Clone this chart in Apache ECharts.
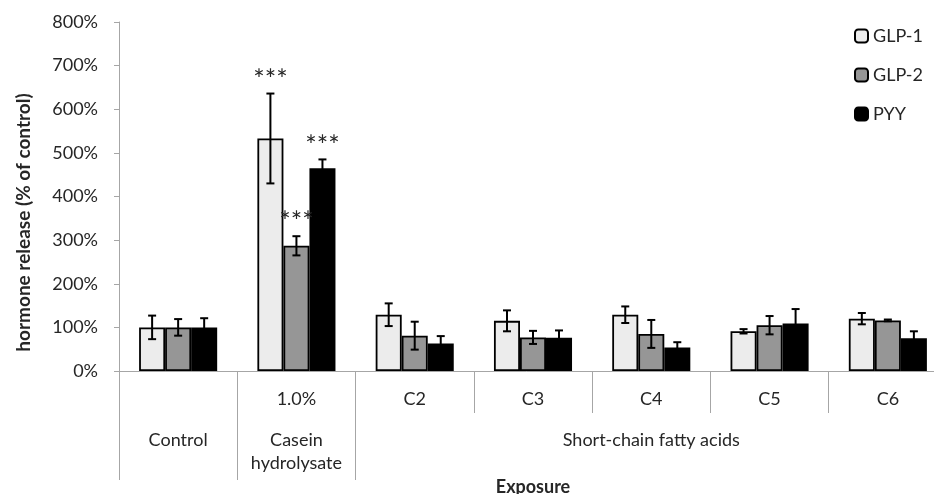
<!DOCTYPE html>
<html>
<head>
<meta charset="utf-8">
<script src="https://cdn.jsdelivr.net/npm/echarts@6/dist/echarts.min.js"></script>
<style>
  html, body { margin: 0; padding: 0; background: #fff; }
  #chart { width: 934px; height: 494px; }
</style>
</head>
<body>
<div id="chart"></div>
<script>
// Hormone release per exposure, % of control (mean and error)
const subLabels = ['', '1.0%', 'C2', 'C3', 'C4', 'C5', 'C6'];
const groupNames = ['Control', 'Casein\nhydrolysate', 'Short-chain fatty acids'];
const groupSpans = [1, 1, 5];

const glp1    = [100, 533, 129, 115, 129, 91, 120];
const glp1Err = [27, 103, 26, 24, 19, 5, 13];
const glp2    = [100, 287, 81, 77, 85, 105, 116];
const glp2Err = [19, 22, 32, 15, 32, 21, 2];
const pyy     = [100, 465, 63, 76, 54, 109, 75];
const pyyErr  = [21, 20, 17, 17, 12, 33, 16];

const glp1Sig = ['', '***', '', '', '', '', ''];
const glp2Sig = ['', '***', '', '', '', '', ''];
const pyySig  = ['', '***', '', '', '', '', ''];

const yTicks = [0, 100, 200, 300, 400, 500, 600, 700, 800];

// group boundaries and centres along the exposure axis
const groupBounds = [];
const groupCenters = [];
let acc = 0;
groupSpans.forEach(s => { groupBounds.push(acc); groupCenters.push(acc + s / 2); acc += s; });

const FONT = 'Lato';
const TEXT = '#262626';
const AXIS = '#a6a6a6';
const BAR_FRAC = 0.22;

function barSeries(name, values, color) {
  return {
    name: name,
    type: 'bar',
    data: values,
    barWidth: (BAR_FRAC * 100) + '%',
    barGap: '0%',
    itemStyle: { color: color, borderColor: '#000', borderWidth: 1.8 },
    z: 2
  };
}

function errorSeries(idx, means, errs, sig) {
  return {
    type: 'custom',
    z: 5,
    data: means.map((m, i) => [i, m, errs[i]]),
    renderItem: function (params, api) {
      const c = api.value(0), m = api.value(1), e = api.value(2);
      const band = api.size([1, 0])[0];
      const x = api.coord([c, 0])[0] + (idx - 1) * band * BAR_FRAC;
      const yTop = api.coord([c, m + e])[1];
      const yBot = api.coord([c, m - e])[1];
      const cap = 4;
      const ls = { stroke: '#000', lineWidth: 2 };
      const children = [
        { type: 'line', shape: { x1: x, y1: yTop, x2: x, y2: yBot }, style: ls },
        { type: 'line', shape: { x1: x - cap, y1: yTop, x2: x + cap, y2: yTop }, style: ls },
        { type: 'line', shape: { x1: x - cap, y1: yBot, x2: x + cap, y2: yBot }, style: ls }
      ];
      const s = sig[params.dataIndex];
      if (s) {
        children.push({
          type: 'text',
          style: {
            text: s, x: x, y: yTop,
            align: 'center', verticalAlign: 'bottom',
            fontFamily: FONT, fontSize: 27, fill: TEXT
          }
        });
      }
      return { type: 'group', children: children };
    }
  };
}

const chart = echarts.init(document.getElementById('chart'));
chart.setOption({
  animation: false,
  textStyle: { fontFamily: FONT, color: TEXT },
  grid: { left: 119, top: 22, bottom: 123, width: 828, outerBoundsMode: 'none', containLabel: false },
  legend: {
    data: ['GLP-1', 'GLP-2', 'PYY'],
    orient: 'vertical',
    left: 854, top: 27,
    padding: 0,
    itemWidth: 13, itemHeight: 13, itemGap: 21,
    textStyle: { fontFamily: FONT, fontSize: 18, color: TEXT }
  },
  xAxis: [
    {
      type: 'category',
      data: subLabels,
      axisLine: { lineStyle: { color: AXIS, width: 1 } },
      axisTick: { show: true, length: 42, lineStyle: { color: AXIS } },
      axisLabel: { fontFamily: FONT, fontSize: 18, color: TEXT, margin: 18, lineHeight: 20, interval: 0 }
    },
    {
      type: 'value',
      position: 'bottom',
      min: 0, max: acc,
      axisLine: { show: false },
      splitLine: { show: false },
      axisTick: { show: true, customValues: groupBounds, length: 109, lineStyle: { color: AXIS } },
      axisLabel: {
        customValues: groupCenters,
        formatter: v => groupNames[groupCenters.indexOf(v)] || '',
        fontFamily: FONT, fontSize: 18, color: TEXT, margin: 58, lineHeight: 23
      },
      name: 'Exposure',
      nameLocation: 'middle',
      nameGap: 107,
      nameMoveOverlap: false,
      nameTextStyle: { fontFamily: FONT, fontSize: 18, fontWeight: 'bold', color: TEXT }
    }
  ],
  yAxis: {
    type: 'value',
    min: yTicks[0], max: yTicks[yTicks.length - 1], interval: 100,
    axisLine: { show: true, lineStyle: { color: AXIS, width: 1 } },
    axisTick: { show: true, length: 5, lineStyle: { color: AXIS } },
    splitLine: { show: false },
    axisLabel: { formatter: '{value}%', fontFamily: FONT, fontSize: 18, color: TEXT, margin: 21 },
    name: 'hormone release (% of control)',
    nameLocation: 'middle',
    nameGap: 86,
    nameMoveOverlap: false,
    nameTextStyle: { fontFamily: FONT, fontSize: 19, fontWeight: 'bold', color: TEXT, padding: [0, 52, 0, 0] }
  },
  series: [
    barSeries('GLP-1', glp1, '#ececec'),
    barSeries('GLP-2', glp2, '#969696'),
    barSeries('PYY', pyy, '#000000'),
    errorSeries(0, glp1, glp1Err, glp1Sig),
    errorSeries(1, glp2, glp2Err, glp2Sig),
    errorSeries(2, pyy, pyyErr, pyySig)
  ]
});
</script>
</body>
</html>
